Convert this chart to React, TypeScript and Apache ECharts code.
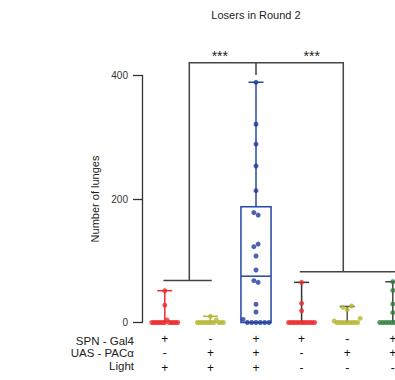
import React, { useEffect, useRef } from 'react';
import * as echarts from 'echarts';

// ---- data ----
const spn = ['+', '-', '+', '+', '-', '+'];
const uas = ['-', '+', '+', '-', '+', '+'];
const light = ['+', '+', '+', '-', '-', '-'];
const rowLabels = ['SPN - Gal4', 'UAS - PACα', 'Light'];

const boxMin = [0, 0, 0, 0, 0, 0];
const boxQ1 = [0, 0, 0, 0, 0, 0];
const boxMedian = [0, 0, 75, 0, 0, 0];
const boxQ3 = [0, 0, 187.5, 0, 0, 0];
const boxMax = [51.5, 10, 389, 65, 26, 66];

const pointsG1 = [51.5, 28, 0, 0, 0, 0, 0, 0, 0, 4, 0, 0, 0, 0, 0];
const pointsG2 = [10, 0, 0, 0, 0, 0, 0, 0, 0, 4, 0, 0, 0];
const pointsG3 = [389, 321, 289, 253.5, 213.5, 178, 174, 122.8, 127, 107.7, 85, 67.7, 65, 29.5, 17, 5, 0, 0, 0, 0, 0, 0];
const pointsG4 = [65, 31, 19, 0, 0, 0, 0, 0, 0, 0, 0, 0, 0, 0, 0];
const pointsG5 = [24.6, 20.7, 26.7, 2.4, 0, 0, 0, 0, 0, 0, 0, 0, 0, 6.8];
const pointsG6 = [66, 52, 30, 16, 0, 0, 0, 0, 0, 0, 0, 0, 0, 0];
const allPoints = [pointsG1, pointsG2, pointsG3, pointsG4, pointsG5, pointsG6];

// significance brackets (data coordinates)
const bracketTopLevel = 420.7;
const bracketDropLevel = 400.8;
const bracketLeftX = 0.537;
const bracketRightX = 3.914;
const bracketMidX = 2;
const lowBrackets = [
  [-0.03, 1.03, 68],
  [2.96, 5.06, 82.3],
];
const sigLabels = ['***', '***'];

// ---- styles ----
const dotColors = ['#ee2a2a', '#b6b636', '#1f3c9c', '#ee2a2a', '#b6b636', '#2e7d3a'];
const whiskerColors = ['#ee2a2a', '#b6b636', '#2446a4', '#333333', '#555555', '#444444'];
const FONT = '"Liberation Sans", Arial, Helvetica, sans-serif';

const GRID_LEFT = 142;
const GRID_TOP = 75.5;
const GRID_H = 247;
const BAND = 45.6;
const GRID_W = BAND * 6;

// spread equal-ish values horizontally (scatter dot plot layout)
function layoutGroup(vals: number[], gi: number): number[][] {
  const tol = 5.5;
  const rows: { ref: number; items: number[] }[] = [];
  vals.forEach((v) => {
    let best: any = null;
    let bestD = Infinity;
    rows.forEach((r) => {
      const d = Math.abs(r.ref - v);
      if (d <= tol && d < bestD) {
        bestD = d;
        best = r;
      }
    });
    if (best) best.items.push(v);
    else rows.push({ ref: v, items: [v] });
  });
  const spacingMax = 4.3 / BAND;
  const maxSpread = 26 / BAND;
  const out: number[][] = [];
  rows.forEach((r) => {
    const n = r.items.length;
    const sp = n > 1 ? Math.min(spacingMax, maxSpread / (n - 1)) : 0;
    r.items.forEach((v, k) => {
      out.push([gi + (k - (n - 1) / 2) * sp, v]);
    });
  });
  return out;
}

export default function App() {
  const ref = useRef<HTMLDivElement>(null);
  useEffect(() => {
    if (!ref.current) return;
    const chart = echarts.init(ref.current, undefined, { renderer: 'svg' });
    const categories = spn.map((s, i) => `${s}\n${uas[i]}\n${light[i]}`);
    const boxData = boxMin.map((m, i) => [i, m, boxQ1[i], boxMedian[i], boxQ3[i], boxMax[i]]);

    const scatterSeries = allPoints.map((pts, gi) => ({
      type: 'scatter',
      xAxisIndex: 1,
      yAxisIndex: 0,
      symbol: 'circle',
      symbolSize: 5,
      itemStyle: { color: dotColors[gi] },
      data: layoutGroup(pts, gi),
      z: 4,
      silent: true,
    }));

    chart.setOption({
      animation: false,
      grid: {
        left: GRID_LEFT,
        top: GRID_TOP,
        width: GRID_W,
        height: GRID_H,
        containLabel: false,
        outerBoundsMode: 'none',
      },
      xAxis: [
        {
          type: 'category',
          data: categories,
          boundaryGap: true,
          axisLine: { show: false, onZero: false },
          axisTick: { show: false },
          axisLabel: {
            interval: 0,
            margin: 9,
            fontSize: 12,
            lineHeight: 14.6,
            color: '#111',
            fontFamily: FONT,
          },
        },
        {
          type: 'value',
          show: false,
          min: -0.5,
          max: 5.5,
          axisLine: { onZero: false },
        },
      ],
      yAxis: {
        type: 'value',
        min: 0,
        max: 400,
        interval: 200,
        name: 'Number of lunges',
        nameLocation: 'middle',
        nameGap: 36,
        nameTextStyle: { fontSize: 11, color: '#222', fontFamily: FONT },
        axisLine: { show: true, onZero: false, lineStyle: { color: '#333', width: 1.3 } },
        axisTick: { show: true, length: 9, lineStyle: { color: '#333', width: 1.3 } },
        axisLabel: { fontSize: 10, color: '#333', margin: 14, fontFamily: FONT },
        splitLine: { show: false },
      },
      graphic: [
        {
          type: 'text',
          x: 256,
          y: 15,
          style: {
            text: 'Losers in Round 2',
            fontSize: 11,
            fill: '#222',
            fontFamily: FONT,
            align: 'center',
            verticalAlign: 'middle',
          },
        },
        ...rowLabels.map((t, k) => ({
          type: 'text',
          x: 134,
          y: [340.5, 353, 365.5][k],
          style: {
            text: t,
            fontSize: 11.5,
            fill: '#222',
            fontFamily: FONT,
            align: 'right',
            verticalAlign: 'middle',
          },
        })),
        ...sigLabels.map((t, k) => ({
          type: 'text',
          x: [219.8, 311.7][k],
          y: 56,
          style: {
            text: t,
            fontSize: 14,
            fill: '#222',
            fontFamily: FONT,
            align: 'center',
            verticalAlign: 'middle',
          },
        })),
      ],
      series: [
        {
          type: 'custom',
          xAxisIndex: 1,
          yAxisIndex: 0,
          data: boxData,
          encode: { x: 0, y: [1, 2, 3, 4, 5] },
          z: 2,
          silent: true,
          renderItem: (params: any, api: any) => {
            const i = api.value(0);
            const mn = api.value(1);
            const q1 = api.value(2);
            const md = api.value(3);
            const q3 = api.value(4);
            const mx = api.value(5);
            const bw = api.size([1, 0])[0];
            const boxW = bw * 0.66;
            const capW = bw * 0.33;
            const c = api.coord([i, 0])[0];
            const y = (v: number) => api.coord([i, v])[1];
            const col = whiskerColors[params.dataIndex];
            const ls = { stroke: col, lineWidth: 1.5, fill: 'none' };
            const children: any[] = [];
            if (q3 > q1) {
              children.push({
                type: 'rect',
                shape: { x: c - boxW / 2, y: y(q3), width: boxW, height: y(q1) - y(q3) },
                style: { stroke: col, lineWidth: 1.5, fill: 'none' },
              });
              children.push({
                type: 'line',
                shape: { x1: c - boxW / 2, y1: y(md), x2: c + boxW / 2, y2: y(md) },
                style: ls,
              });
            }
            if (mx > q3) {
              children.push({ type: 'line', shape: { x1: c, y1: y(q3), x2: c, y2: y(mx) }, style: ls });
              children.push({
                type: 'line',
                shape: { x1: c - capW / 2, y1: y(mx), x2: c + capW / 2, y2: y(mx) },
                style: ls,
              });
            }
            if (q1 > mn) {
              children.push({ type: 'line', shape: { x1: c, y1: y(q1), x2: c, y2: y(mn) }, style: ls });
              children.push({
                type: 'line',
                shape: { x1: c - capW / 2, y1: y(mn), x2: c + capW / 2, y2: y(mn) },
                style: ls,
              });
            }
            return { type: 'group', children };
          },
        },
        {
          type: 'custom',
          xAxisIndex: 1,
          yAxisIndex: 0,
          data: [[0, 0]],
          z: 1,
          silent: true,
          clip: false,
          renderItem: (params: any, api: any) => {
            const p = (x: number, v: number) => api.coord([x, v]);
            const st = { stroke: '#444', lineWidth: 1.5, fill: 'none' };
            const children: any[] = [];
            children.push({
              type: 'polyline',
              shape: {
                points: [
                  p(bracketLeftX, lowBrackets[0][2]),
                  p(bracketLeftX, bracketTopLevel),
                  p(bracketRightX, bracketTopLevel),
                  p(bracketRightX, lowBrackets[1][2]),
                ],
              },
              style: st,
            });
            children.push({
              type: 'line',
              shape: (() => {
                const a = p(bracketMidX, bracketTopLevel);
                const b = p(bracketMidX, bracketDropLevel);
                return { x1: a[0], y1: a[1], x2: b[0], y2: b[1] };
              })(),
              style: st,
            });
            lowBrackets.forEach((lb) => {
              const a = p(lb[0], lb[2]);
              const b = p(lb[1], lb[2]);
              children.push({ type: 'line', shape: { x1: a[0], y1: a[1], x2: b[0], y2: b[1] }, style: st });
            });
            return { type: 'group', children };
          },
        },
        ...scatterSeries,
      ],
    } as any);
    return () => chart.dispose();
  }, []);
  return (
    <div
      ref={ref}
      style={{ position: 'fixed', left: 0, top: 0, width: 395, height: 380, background: '#fff' }}
    />
  );
}
